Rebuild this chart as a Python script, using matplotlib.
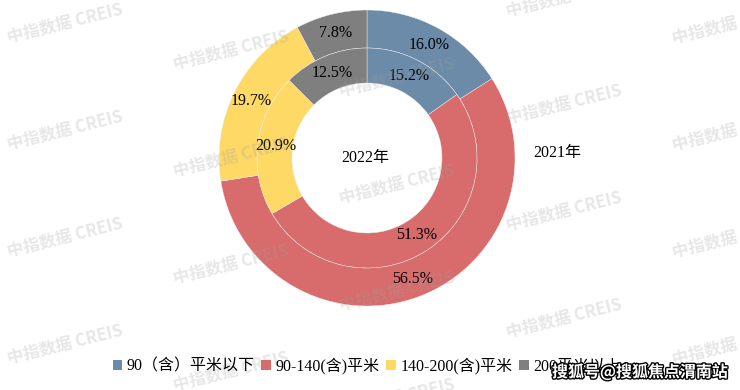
import numpy as np
import matplotlib
matplotlib.use("Agg")
import matplotlib.pyplot as plt
import matplotlib.patheffects as pe
from matplotlib.patches import Patch

plt.rcParams['font.family'] = ['Liberation Serif', 'Noto Sans CJK SC', 'DejaVu Sans']

categories = ['90（含）平米以下', '90-140(含)平米', '140-200(含)平米', '200平米以上']
share_2021 = [16.0, 56.5, 19.7, 7.8]
share_2022 = [15.2, 51.3, 20.9, 12.5]
colors = ['#6B8BA8', '#D86B6C', '#FED966', '#7F7F7F']

W, H = 740, 390
fig = plt.figure(figsize=(W / 100, H / 100), dpi=100)
ax = fig.add_axes([0, 0, 1, 1])

cx, cy = 367, H - 158
r_out, r_mid, r_in = 148, 110, 75

wedges_out, _ = ax.pie(share_2021, radius=r_out, center=(cx, cy), startangle=90,
                       counterclock=False, colors=colors,
                       wedgeprops=dict(width=r_out - r_mid, edgecolor='#f2f2f2', linewidth=0.3))
wedges_in, _ = ax.pie(share_2022, radius=r_mid, center=(cx, cy), startangle=90,
                      counterclock=False, colors=colors,
                      wedgeprops=dict(width=r_mid - r_in, edgecolor='#f2f2f2', linewidth=0.3))

# percent labels at the middle of each wedge
def put_labels(wedges, vals, rad):
    for w, v in zip(wedges, vals):
        a = np.deg2rad((w.theta1 + w.theta2) / 2)
        ax.text(cx + rad * np.cos(a), cy + rad * np.sin(a), f'{v:.1f}%',
                ha='center', va='center', fontsize=11.5, color='black', zorder=5)

put_labels(wedges_out, share_2021, 129)
put_labels(wedges_in, share_2022, 92)

ax.text(cx - 2, cy, '2022年', ha='center', va='center', fontsize=11.5, zorder=5)
ax.text(557, H - 153, '2021年', ha='center', va='center', fontsize=11.5, zorder=5)

# watermarks
cols = [65, 231, 397, 564, 730]
for i, x in enumerate(cols):
    y0 = 23 + 27 * i
    for k in range(-1, 4):
        y = y0 + 107 * k
        if -20 < y < 400:
            ax.text(x, H - y, '中指数据 CREIS', family=['Noto Sans CJK SC', 'DejaVu Sans'],
                    fontsize=12, fontweight='bold', color='#a0a0a0', alpha=0.25,
                    rotation=14, ha='center', va='center', zorder=6)

ax.set_xlim(0, W)
ax.set_ylim(0, H)
ax.set_aspect('equal')
ax.axis('off')

handles = [Patch(facecolor=c, edgecolor='none') for c in colors]
fig.legend(handles, categories, loc='center', bbox_to_anchor=(367 / W, 1 - 366 / H),
           ncol=4, frameon=False, fontsize=11.5, handlelength=0.6, handleheight=0.6,
           handletextpad=0.3, columnspacing=0.4)

fig.text(640 / W, 1 - 372 / H, '搜狐号@搜狐焦点渭南站', family=['Noto Sans CJK SC'],
         fontsize=11.5, fontweight='bold', color='white', ha='center', va='center',
         path_effects=[pe.withStroke(linewidth=2, foreground='black')], zorder=10)

fig.savefig('out.png', dpi=100)
